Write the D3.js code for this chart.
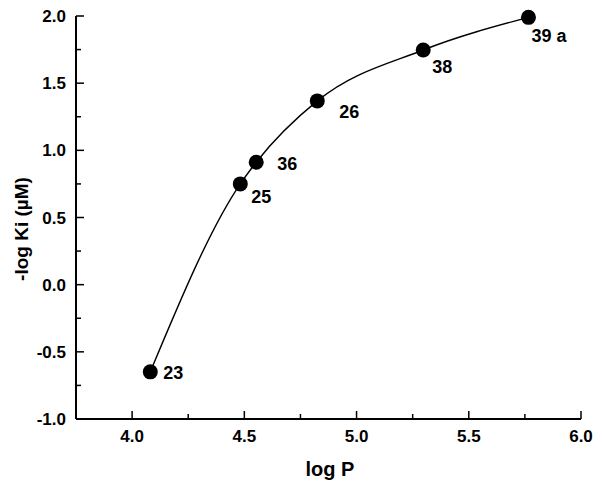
<!DOCTYPE html>
<html><head><meta charset="utf-8">
<script src="https://cdn.jsdelivr.net/npm/d3@7"></script>
<style>body{margin:0;background:#fff}svg{display:block}text{font-family:"Liberation Sans",Arial,sans-serif;font-weight:bold;fill:#000}</style>
</head><body><svg id="c" width="602" height="489"></svg>
<script>
const compounds = ["23","25","36","26","38","39 a"];
const logP = [4.081, 4.482, 4.553, 4.825, 5.297, 5.766];
const negLogKi = [-0.649, 0.75, 0.911, 1.368, 1.747, 1.99];
const xTicks = [4.0, 4.5, 5.0, 5.5, 6.0];
const yTicks = [-1.0, -0.5, 0.0, 0.5, 1.0, 1.5, 2.0];
const xMinor = [4.25, 4.75, 5.25, 5.75];
const yMinor = [-0.75, -0.25, 0.25, 0.75, 1.25, 1.75];

const svg = d3.select("#c");
const x = d3.scaleLinear().domain([3.75, 6.0]).range([76, 581]);
const y = d3.scaleLinear().domain([-1.0, 2.0]).range([419, 16]);

// x axis
const xa = svg.append("g").attr("transform", `translate(0,${y(-1)})`);
xa.append("line").attr("x1", x(3.75)).attr("x2", x(6.0)).attr("stroke", "#000").attr("stroke-width", 2);
xa.selectAll(".mj").data(xTicks).join("line").attr("x1", d => x(d)).attr("x2", d => x(d)).attr("y1", 0).attr("y2", -8).attr("stroke", "#000").attr("stroke-width", 1.5);
xa.selectAll(".mn").data(xMinor).join("line").attr("x1", d => x(d)).attr("x2", d => x(d)).attr("y1", 0).attr("y2", -5).attr("stroke", "#000").attr("stroke-width", 1.5);
xa.selectAll("text").data(xTicks).join("text").attr("x", d => x(d)).attr("y", 23).attr("text-anchor", "middle").attr("font-size", 17).text(d => d.toFixed(1));

// y axis
const ya = svg.append("g").attr("transform", `translate(${x(3.75)},0)`);
ya.append("line").attr("y1", y(-1)).attr("y2", y(2)).attr("stroke", "#000").attr("stroke-width", 2);
ya.selectAll(".mj").data(yTicks).join("line").attr("y1", d => y(d)).attr("y2", d => y(d)).attr("x1", 0).attr("x2", 8).attr("stroke", "#000").attr("stroke-width", 1.5);
ya.selectAll(".mn").data(yMinor).join("line").attr("y1", d => y(d)).attr("y2", d => y(d)).attr("x1", 0).attr("x2", 5).attr("stroke", "#000").attr("stroke-width", 1.5);
ya.selectAll("text").data(yTicks).join("text").attr("x", -10).attr("y", d => y(d)).attr("dy", "0.36em").attr("text-anchor", "end").attr("font-size", 17).text(d => d.toFixed(1));

// titles
svg.append("text").attr("x", 330).attr("y", 476).attr("text-anchor", "middle").attr("font-size", 20).text("log P");
svg.append("text").attr("transform", "translate(28,229) rotate(-90)").attr("text-anchor", "middle").attr("font-size", 19).text("-log Ki (µM)");

// curve
const pts = logP.map((v, i) => [v, negLogKi[i]]);
const line = d3.line().x(d => x(d[0])).y(d => y(d[1])).curve(d3.curveMonotoneX);
svg.append("path").attr("d", line(pts)).attr("fill", "none").attr("stroke", "#000").attr("stroke-width", 1.4);

// points
svg.selectAll("circle").data(pts).join("circle").attr("cx", d => x(d[0])).attr("cy", d => y(d[1])).attr("r", 7.5).attr("fill", "#000");

// labels
const offs = [[13, 7], [11, 19], [21, 8], [22, 17], [9, 23], [3, 25]];
svg.selectAll(".lab").data(pts).join("text").attr("class", "lab")
  .attr("x", (d, i) => x(d[0]) + offs[i][0]).attr("y", (d, i) => y(d[1]) + offs[i][1])
  .attr("font-size", 18).text((d, i) => compounds[i]);
</script></body></html>
